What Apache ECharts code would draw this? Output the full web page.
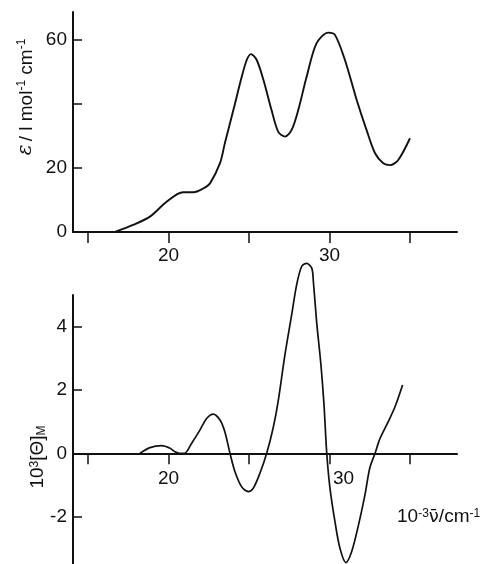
<!DOCTYPE html>
<html>
<head>
<meta charset="utf-8">
<script src="https://cdn.jsdelivr.net/npm/echarts@6/dist/echarts.min.js"></script>
<style>
  html, body { margin: 0; padding: 0; background: #fff; }
  #chart { width: 489px; height: 564px; }
</style>
</head>
<body>
<div id="chart"></div>
<script>
// wavenumber in 10^3 cm^-1
const absX = [16.68, 17.8, 18.85, 19.9, 20.9, 21.55, 22.16, 22.58, 23.2, 23.5, 24.03, 24.55, 24.86, 25.12, 25.48, 25.9, 26.4, 26.82, 27.24, 27.65, 28.06, 28.58, 29.2, 29.93, 30.34, 30.96, 31.69, 32.3, 32.83, 33.34, 33.76, 34.27, 35.0];
const absEps = [0, 2.2, 4.8, 9.5, 12.4, 12.4, 13.6, 15.2, 21.5, 27.7, 38.1, 48.5, 53.75, 55.6, 53.75, 47.5, 38.1, 31.3, 29.8, 31.9, 38.1, 48.5, 59, 62.3, 61.6, 53.75, 41.25, 31.9, 24.6, 21.5, 20.9, 22.5, 29.3];

const cdX = [18.23, 18.85, 19.58, 20.1, 20.4, 20.7, 21.0, 21.44, 21.96, 22.37, 22.78, 23.2, 23.5, 23.82, 24.13, 24.55, 24.96, 25.27, 25.68, 26.1, 26.5, 26.8, 27.23, 27.65, 27.96, 28.27, 28.58, 28.9, 29.0, 29.2, 29.47, 29.66, 29.83, 30.03, 30.34, 30.65, 31.02, 31.38, 31.8, 32.2, 32.5, 32.83, 33.14, 33.65, 34.07, 34.54];
const cdTheta = [0, 0.18, 0.24, 0.16, 0.05, 0, 0, 0.32, 0.74, 1.1, 1.24, 1.05, 0.68, 0, -0.58, -1.06, -1.21, -1.1, -0.63, 0, 0.8, 1.6, 3.1, 4.37, 5.32, 5.9, 6.0, 5.85, 5.42, 4.16, 2.79, 1.53, 0, -1.1, -2.16, -3.0, -3.45, -3.1, -2.27, -1.32, -0.47, 0, 0.47, 1.0, 1.47, 2.16];

const xTicks = [15, 20, 25, 30, 35];
const xLabels = [20, 30];
const epsTicks = [0, 20, 40, 60];
const epsLabels = [0, 20, 60];
const thetaTicksPos = [2, 4];
const thetaLabelsPos = [0, 2, 4];
const thetaTicksNeg = [-2];

const ink = '#111';
const font = 'Liberation Sans';
const fs = 19;

const chart = echarts.init(document.getElementById('chart'));

function xAxisOf(gridIndex, margin, fmt, visible) {
  return {
    type: 'value', gridIndex: gridIndex, min: 14.07, max: 37.92, show: visible,
    splitLine: { show: false },
    axisLine: { onZero: false, lineStyle: { color: ink, width: 2 } },
    axisTick: { show: true, length: 11, customValues: xTicks, lineStyle: { color: ink, width: 1.5 } },
    axisLabel: { customValues: xLabels, margin: margin, color: ink, fontFamily: font, fontSize: fs, formatter: fmt, rich: {
      r: { padding: [0, 0, 0, 28], color: ink, fontFamily: font, fontSize: fs }
    } }
  };
}

function yAxisOf(gridIndex, min, max, ticks, labels) {
  return {
    type: 'value', gridIndex: gridIndex, min: min, max: max,
    splitLine: { show: false },
    axisLine: { show: true, onZero: false, lineStyle: { color: ink, width: 2 } },
    axisTick: { show: true, inside: true, length: 9, customValues: ticks, lineStyle: { color: ink, width: 1.5 } },
    axisLabel: { customValues: labels, margin: 6, color: ink, fontFamily: font, fontSize: fs }
  };
}

chart.setOption({
  animation: false,
  backgroundColor: '#fff',
  grid: [
    { left: 73, right: 32, top: 12, height: 220, outerBoundsMode: 'none' },
    { left: 73, right: 32, top: 295, height: 158.3, outerBoundsMode: 'none' },
    { left: 73, right: 32, top: 453.3, height: 110.8, outerBoundsMode: 'none' }
  ],
  xAxis: [
    xAxisOf(0, 14, v => String(v), true),
    xAxisOf(1, 16, v => v === 30 ? '{r|30}' : String(v), true),
    xAxisOf(2, 16, v => String(v), false)
  ],
  yAxis: [
    yAxisOf(0, 0, 68.75, epsTicks, epsLabels),
    yAxisOf(1, 0, 5, thetaTicksPos, thetaLabelsPos),
    yAxisOf(2, -3.5, 0, thetaTicksNeg, thetaTicksNeg)
  ],
  series: [
    {
      type: 'line', xAxisIndex: 0, yAxisIndex: 0, smooth: 0.3, showSymbol: false,
      lineStyle: { color: ink, width: 1.9 },
      data: absX.map((x, i) => [x, absEps[i]])
    },
    {
      type: 'line', xAxisIndex: 1, yAxisIndex: 1, smooth: 0.3, showSymbol: false, clip: false,
      lineStyle: { color: ink, width: 1.7 },
      data: cdX.map((x, i) => [x, cdTheta[i]])
    }
  ],
  graphic: [
    {
      type: 'text', x: 26, y: 97, rotation: Math.PI / 2,
      style: {
        text: '{e|ε} {n|/ l mol}{s|-1}{n| cm}{s|-1}',
        align: 'center', verticalAlign: 'middle', fill: ink,
        rich: {
          e: { fontFamily: 'DejaVu Serif', fontStyle: 'italic', fontSize: 20, fill: ink, verticalAlign: 'bottom' },
          n: { fontFamily: font, fontSize: 19, fill: ink, verticalAlign: 'bottom' },
          s: { fontFamily: font, fontSize: 12, fill: ink, verticalAlign: 'top' }
        }
      }
    },
    {
      type: 'text', x: 38, y: 457, rotation: Math.PI / 2,
      style: {
        text: '{n|10}{s|3}{n|[Θ]}{m|M}',
        align: 'center', verticalAlign: 'middle', fill: ink,
        rich: {
          n: { fontFamily: font, fontSize: 19, fill: ink, verticalAlign: 'middle' },
          s: { fontFamily: font, fontSize: 12, fill: ink, verticalAlign: 'top' },
          m: { fontFamily: font, fontSize: 12, fill: ink, verticalAlign: 'bottom' }
        }
      }
    },
    {
      type: 'text', x: 397, y: 517,
      style: {
        text: '{n|10}{s|-3}{v|ν̄}{n|/cm}{s|-1}',
        align: 'left', verticalAlign: 'middle', fill: ink,
        rich: {
          n: { fontFamily: font, fontSize: 19, fill: ink, verticalAlign: 'bottom' },
          v: { fontFamily: 'DejaVu Sans', fontSize: 18, fill: ink, verticalAlign: 'bottom' },
          s: { fontFamily: font, fontSize: 12, fill: ink, verticalAlign: 'top' }
        }
      }
    }
  ]
});
</script>
</body>
</html>
